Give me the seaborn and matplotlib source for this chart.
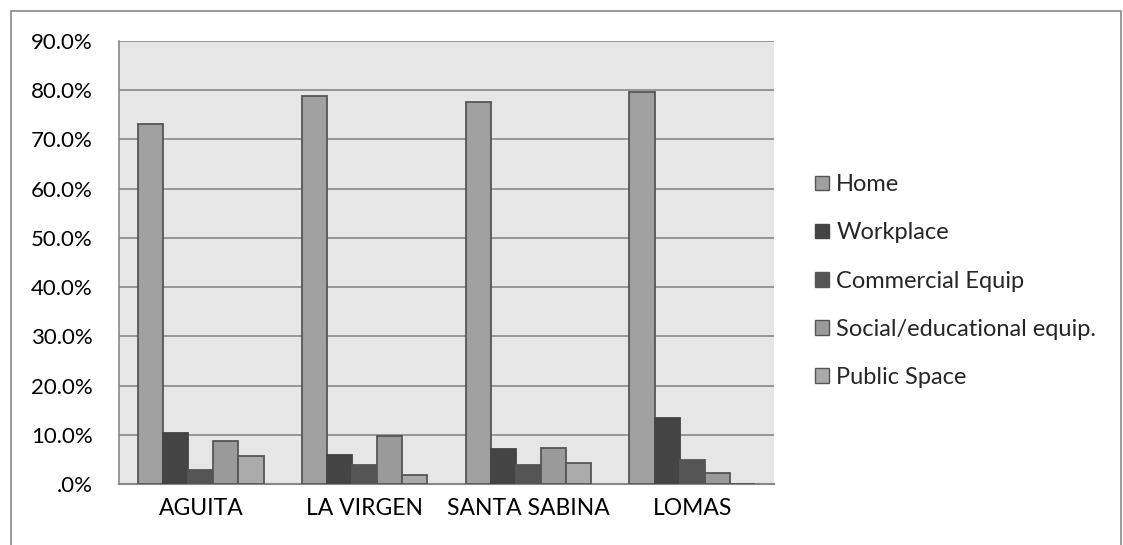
import matplotlib
matplotlib.use("Agg")
import matplotlib.pyplot as plt
from matplotlib.patches import Rectangle
from matplotlib.ticker import FuncFormatter
import pandas as pd
import seaborn as sns

# Share of trips by destination type, per neighbourhood (%)
neighbourhoods = ["AGUITA", "LA VIRGEN", "SANTA SABINA", "LOMAS"]
destinations = ["Home", "Workplace", "Commercial Equip",
                "Social/educational equip.", "Public Space"]
home = [73.1, 78.9, 77.7, 79.7]
workplace = [10.3, 5.9, 7.2, 13.4]
commercial = [2.8, 3.9, 3.9, 4.9]
social = [8.7, 9.8, 7.4, 2.2]
public_space = [5.6, 1.8, 4.3, 0.1]

series = [home, workplace, commercial, social, public_space]
rows = []
for dest, vals in zip(destinations, series):
    for nb, v in zip(neighbourhoods, vals):
        rows.append({"Neighbourhood": nb, "Destination": dest, "Share": v})
df = pd.DataFrame(rows)

fills = ["#a0a0a0", "#444444", "#555555", "#9a9a9a", "#aaaaaa"]
edges = ["#555555", "#444444", "#555555", "#555555", "#555555"]

sns.set_theme(style="white")
plt.rcParams["font.family"] = ["Lato", "DejaVu Sans"]
FS = 16

fig = plt.figure(figsize=(11.23, 5.45), dpi=100)
W, H = 1123, 545
ax = fig.add_axes([119 / W, 1 - 484 / H, (774 - 119) / W, (484 - 41) / H])
ax.set_facecolor("#e6e6e6")

sns.barplot(data=df, x="Neighbourhood", y="Share", hue="Destination",
            hue_order=destinations, order=neighbourhoods,
            palette=fills, width=0.765, gap=0, ax=ax, legend=False,
            saturation=1, zorder=3)

for container, ec in zip(ax.containers, edges):
    for bar in container:
        bar.set_edgecolor(ec)
        bar.set_linewidth(1.3)

ax.set_ylim(0, 90)
ax.set_yticks(range(0, 91, 10))
ax.yaxis.set_major_formatter(
    FuncFormatter(lambda v, p: ".0%" if v == 0 else f"{v:.1f}%"))
ax.grid(axis="y", color="#888888", linewidth=1.2, zorder=0)
ax.set_axisbelow(True)
ax.set_xlim(-0.5, 3.5)
ax.set_xlabel("")
ax.set_ylabel("")
ax.tick_params(axis="y", length=0, pad=19, labelsize=FS, colors="#000000")
ax.tick_params(axis="x", length=0, pad=10, labelsize=FS + 0.5, colors="#000000")

for side in ["top", "right"]:
    ax.spines[side].set_visible(False)
ax.spines["left"].set_color("#888888")
ax.spines["left"].set_linewidth(1.2)
ax.spines["bottom"].set_color("#888888")
ax.spines["bottom"].set_linewidth(1.5)

# Legend with square swatches
handles = [Rectangle((0, 0), 1, 1, facecolor=f, edgecolor=e, linewidth=1)
           for f, e in zip(fills, edges)]
fig.legend(handles, destinations, loc="center left",
           bbox_to_anchor=(806 / W, 1 - 281 / H), frameon=False,
           fontsize=FS + 1, handlelength=0.58, handleheight=0.58,
           handletextpad=0.3, labelspacing=1.15, borderaxespad=0)

# Outer chart border
fig.add_artist(Rectangle((11 / W, -0.05), (1121 - 11) / W, 1.05 - 11 / H,
                         transform=fig.transFigure, fill=False,
                         edgecolor="#888888", linewidth=1.2))

fig.savefig("out.png", dpi=100, facecolor="white")
